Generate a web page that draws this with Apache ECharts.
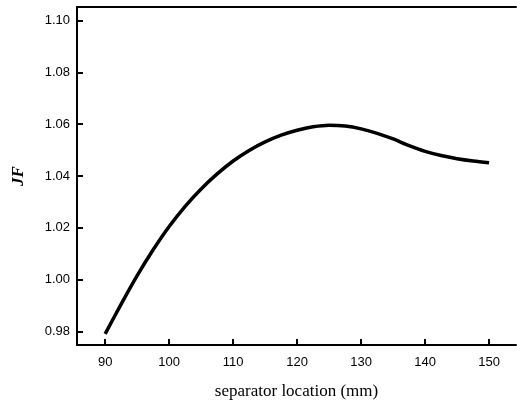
<!DOCTYPE html>
<html>
<head>
<meta charset="utf-8">
<script src="https://cdn.jsdelivr.net/npm/echarts@6/dist/echarts.min.js"></script>
<style>html,body{margin:0;padding:0;background:#fff;}#c{width:517px;height:405px;}</style>
</head>
<body>
<div id="c"></div>
<script>
const xValues = [90, 92.5, 95, 97.5, 100, 102.5, 105, 107.5, 110, 112.5, 115, 117.5, 120, 122.5, 125, 127.5, 130, 132.5, 135, 137.5, 140, 142.5, 145, 147.5, 150];
const jfValues = [0.979, 0.9905, 1.0015, 1.0115, 1.0205, 1.0283, 1.035, 1.0408, 1.0458, 1.0499, 1.0532, 1.0558, 1.0577, 1.059, 1.0596, 1.0593, 1.0582, 1.0565, 1.0543, 1.0517, 1.0495, 1.0479, 1.0467, 1.0458, 1.0451];
const xTicks = [90, 100, 110, 120, 130, 140, 150];
const yTicks = [0.98, 1.00, 1.02, 1.04, 1.06, 1.08, 1.10];
const xTitle = 'separator location (mm)';
const yTitle = 'JF';

const chart = echarts.init(document.getElementById('c'), null, {renderer: 'canvas'});
const lineStyle = {color: '#000', width: 2};
chart.setOption({
  animation: false,
  backgroundColor: '#fff',
  grid: {left: 77, top: 7, right: 1, bottom: 56},
  xAxis: [{
    type: 'value', min: 85.6, max: 154.2,
    axisLine: {show: true, lineStyle: lineStyle},
    axisTick: {show: true, inside: true, length: 6, lineStyle: {color: '#000', width: 2}, customValues: xTicks},
    axisLabel: {color: '#000', fontFamily: 'Liberation Sans', fontSize: 13, margin: 11, customValues: xTicks},
    splitLine: {show: false},
    name: xTitle, nameLocation: 'middle', nameGap: 38,
    nameTextStyle: {color: '#000', fontFamily: 'Liberation Serif', fontSize: 17}
  }, {
    type: 'value', position: 'top', min: 85.6, max: 154.2,
    axisLine: {show: true, lineStyle: lineStyle},
    axisTick: {show: false}, axisLabel: {show: false}, splitLine: {show: false}
  }],
  yAxis: [{
    type: 'value', min: 0.9747, max: 1.1053,
    axisLine: {show: true, lineStyle: lineStyle},
    axisTick: {show: true, inside: true, length: 6, lineStyle: {color: '#000', width: 2}, customValues: yTicks},
    axisLabel: {color: '#000', fontFamily: 'Liberation Sans', fontSize: 13, margin: 7, customValues: yTicks,
      formatter: v => v.toFixed(2)},
    splitLine: {show: false},
    name: yTitle, nameLocation: 'middle', nameGap: 50, nameRotate: 90,
    nameTextStyle: {color: '#000', fontFamily: 'Liberation Serif', fontSize: 17, fontWeight: 'bold', fontStyle: 'italic'}
  }],
  series: [{
    type: 'line',
    data: xValues.map((x, i) => [x, jfValues[i]]),
    smooth: 0.3,
    showSymbol: false,
    lineStyle: {color: '#000', width: 3.5}
  }]
});
</script>
</body>
</html>
